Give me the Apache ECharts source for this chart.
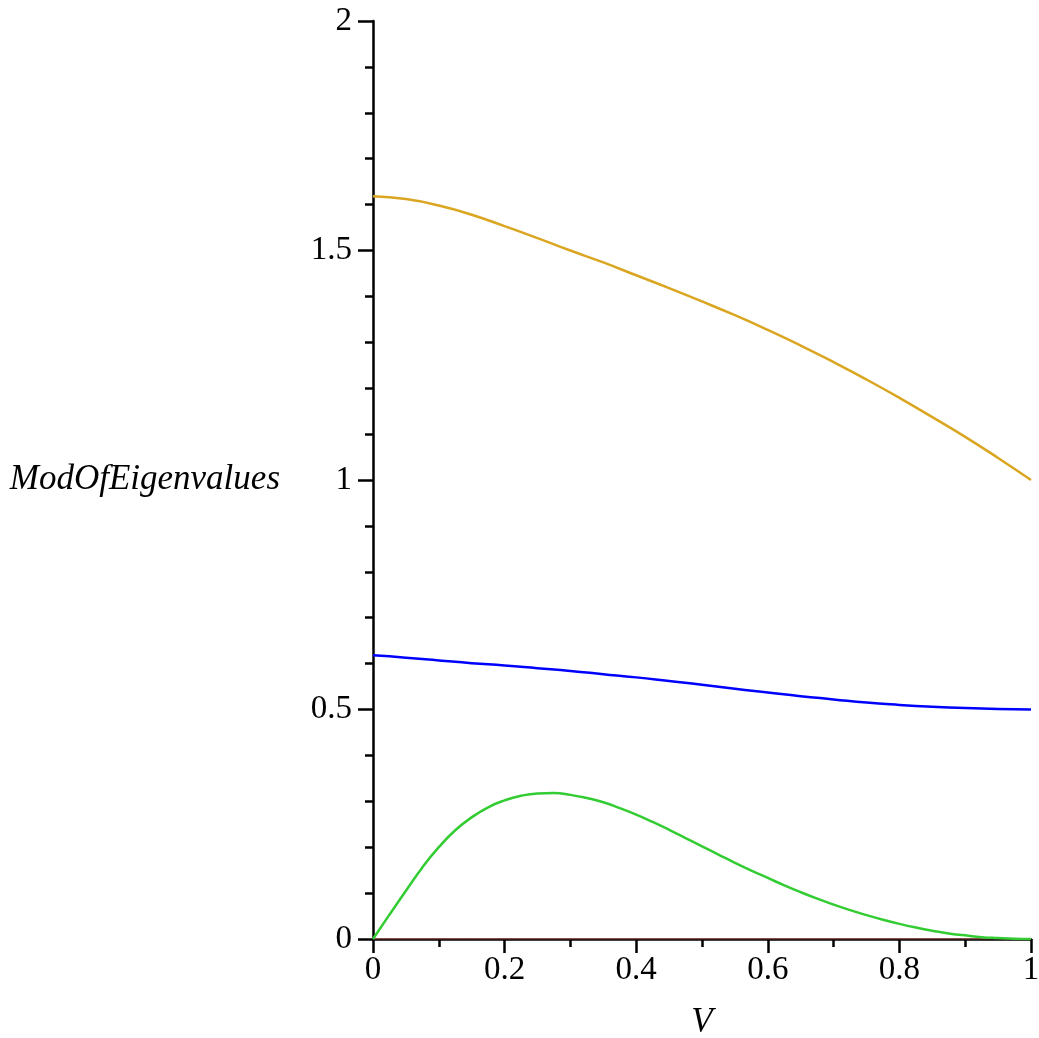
<!DOCTYPE html>
<html>
<head>
<meta charset="utf-8">
<script src="https://cdn.jsdelivr.net/npm/echarts@6/dist/echarts.min.js"></script>
<style>
  html, body { margin: 0; padding: 0; background: #ffffff; }
  #chart { width: 1039px; height: 1038px; }
</style>
</head>
<body>
<div id="chart"></div>
<script>
// Moduli of the eigenvalues as functions of V
const vSteps = [0, 0.05, 0.1, 0.15, 0.2, 0.25, 0.3, 0.35, 0.4, 0.45, 0.5,
                0.55, 0.6, 0.65, 0.7, 0.75, 0.8, 0.85, 0.9, 0.95, 1.0];
const largest = [1.618, 1.612, 1.598, 1.578, 1.553, 1.527, 1.500, 1.474, 1.446, 1.418, 1.389,
                 1.359, 1.327, 1.293, 1.257, 1.219, 1.179, 1.137, 1.094, 1.048, 1.000];
const second  = [0.618, 0.613, 0.607, 0.601, 0.596, 0.590, 0.584, 0.577, 0.570, 0.562, 0.554,
                 0.545, 0.537, 0.529, 0.522, 0.515, 0.510, 0.506, 0.503, 0.501, 0.500];
const vFine   = [0, 0.025, 0.05, 0.075, 0.1, 0.125, 0.15, 0.175, 0.2, 0.225, 0.25, 0.275, 0.3,
                 0.325, 0.35, 0.375, 0.4, 0.425, 0.45, 0.475, 0.5, 0.525, 0.55, 0.575, 0.6,
                 0.625, 0.65, 0.675, 0.7, 0.725, 0.75, 0.775, 0.8, 0.825, 0.85, 0.875, 0.9,
                 0.925, 0.95, 0.975, 1.0];
const third   = [0, 0.053, 0.105, 0.156, 0.200, 0.237, 0.265, 0.287, 0.302, 0.312, 0.317, 0.318, 0.314,
                 0.307, 0.298, 0.285, 0.271, 0.255, 0.238, 0.220, 0.202, 0.184, 0.166, 0.149, 0.133,
                 0.117, 0.102, 0.088, 0.075, 0.063, 0.052, 0.042, 0.033, 0.025, 0.018, 0.012, 0.008,
                 0.004, 0.002, 0.0005, 0];
const vZero   = [0, 1];
const zeroMod = [0, 0];

const xTicks = [0, 0.2, 0.4, 0.6, 0.8, 1];
const yTicks = [0, 0.5, 1, 1.5, 2];

const pairs = (xs, ys) => xs.map((x, i) => [x, ys[i]]);

const serifFont = '"Liberation Serif", "DejaVu Serif", serif';

const chart = echarts.init(document.getElementById('chart'), null, { renderer: 'canvas' });

function line(name, xs, ys, color, width) {
  return {
    name: name,
    type: 'line',
    data: pairs(xs, ys),
    smooth: true,
    showSymbol: false,
    symbol: 'none',
    lineStyle: { color: color, width: width },
    animation: false
  };
}

chart.setOption({
  backgroundColor: '#ffffff',
  animation: false,
  grid: { left: 373, right: 8, top: 21, bottom: 99, containLabel: false, outerBoundsMode: 'none' },
  xAxis: {
    type: 'value',
    min: 0, max: 1, interval: 0.2,
    name: 'V',
    nameLocation: 'middle',
    nameGap: 66,
    nameTextStyle: { fontFamily: serifFont, fontStyle: 'italic', fontSize: 35, color: '#000' },
    axisLine: { show: true, onZero: false, lineStyle: { color: '#000', width: 2.5 } },
    axisTick: { show: true, length: 14, lineStyle: { color: '#000', width: 2.5 } },
    minorTick: { show: true, splitNumber: 2, length: 8, lineStyle: { color: '#000', width: 2.5 } },
    splitLine: { show: false },
    axisLabel: {
      margin: 15,
      fontFamily: serifFont, fontSize: 33, color: '#000',
      formatter: v => (xTicks.some(t => Math.abs(t - v) < 1e-9) ? String(+v.toFixed(1)) : '')
    }
  },
  yAxis: {
    type: 'value',
    min: 0, max: 2, interval: 0.5,
    name: 'ModOfEigenvalues',
    nameLocation: 'middle',
    nameRotate: 0,
    nameGap: 93,
    nameTextStyle: { fontFamily: serifFont, fontStyle: 'italic', fontSize: 35, color: '#000', align: 'right', verticalAlign: 'middle' },
    axisLine: { show: true, onZero: false, lineStyle: { color: '#000', width: 2.5 } },
    axisTick: { show: true, length: 15, lineStyle: { color: '#000', width: 2.5 } },
    minorTick: { show: true, splitNumber: 5, length: 8, lineStyle: { color: '#000', width: 2.5 } },
    splitLine: { show: false },
    axisLabel: {
      margin: 21,
      fontFamily: serifFont, fontSize: 33, color: '#000',
      formatter: v => (yTicks.some(t => Math.abs(t - v) < 1e-9) ? String(+v.toFixed(1)) : '')
    }
  },
  series: [
    line('zero', vZero, zeroMod, '#c86060', 1),
    line('second', vSteps, second, '#0000ff', 2.5),
    line('third', vFine, third, '#33cc33', 2.5),
    line('largest', vSteps, largest, '#daa520', 2.5)
  ]
});
</script>
</body>
</html>
